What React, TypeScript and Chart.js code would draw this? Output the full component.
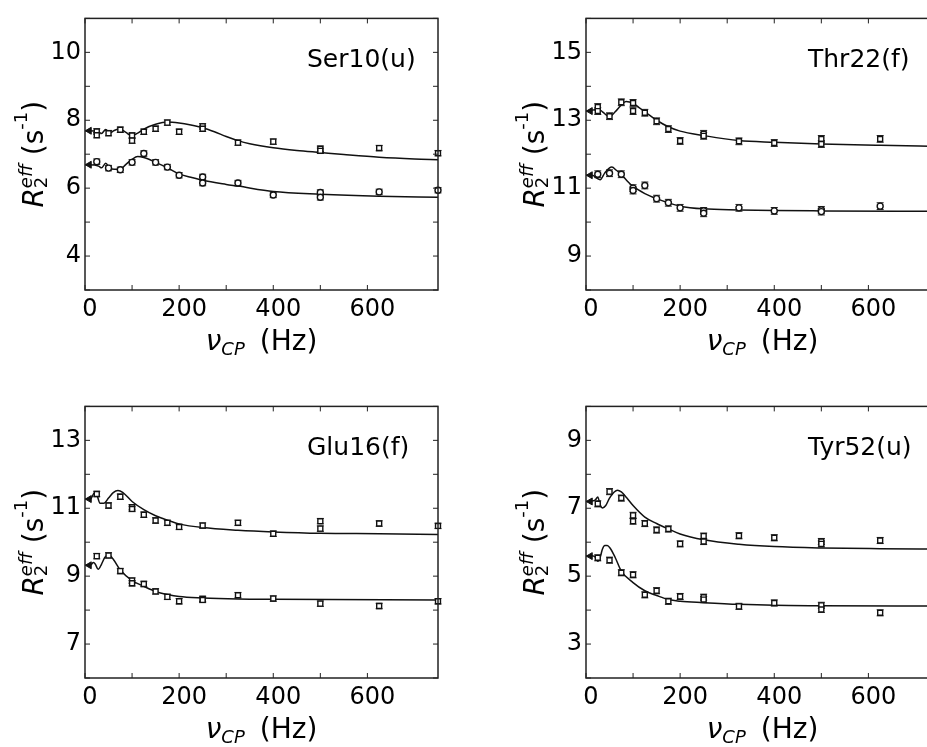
import React, { useEffect, useRef } from "react";
import { Chart, registerables } from "chart.js";
Chart.register(...registerables);

const FONT = "'DejaVu Sans', 'Liberation Sans', sans-serif";

// ---------- shared axis data ----------
const xTickLabels = [0, 200, 400, 600];

// ---------- Ser10(u) ----------
const ser10UpperX = [25, 25, 50, 75, 100, 100, 125, 150, 175, 200, 250, 250, 325, 400, 500, 500, 625, 750];
const ser10UpperY = [7.67, 7.56, 7.62, 7.72, 7.55, 7.4, 7.66, 7.75, 7.93, 7.66, 7.82, 7.75, 7.34, 7.37, 7.16, 7.1, 7.18, 7.03];
const ser10LowerX = [25, 50, 75, 100, 125, 150, 175, 200, 250, 250, 325, 400, 500, 500, 625, 750];
const ser10LowerY = [6.78, 6.59, 6.54, 6.76, 7.02, 6.76, 6.62, 6.38, 6.33, 6.15, 6.15, 5.8, 5.87, 5.73, 5.89, 5.94];
const ser10UpperFitX = [0, 20, 30, 35, 44, 53, 62, 74, 87, 99, 112, 125, 150, 175, 200, 225, 250, 275, 300, 325, 350, 400, 450, 500, 550, 625, 700, 750];
const ser10UpperFitY = [7.69, 7.68, 7.64, 7.61, 7.73, 7.63, 7.7, 7.74, 7.64, 7.54, 7.62, 7.74, 7.88, 7.95, 7.92, 7.86, 7.78, 7.66, 7.52, 7.4, 7.31, 7.19, 7.11, 7.05, 6.99, 6.91, 6.86, 6.84];
const ser10LowerFitX = [0, 20, 30, 35, 44, 53, 62, 75, 87, 100, 112, 125, 150, 175, 200, 225, 250, 300, 325, 400, 500, 625, 750];
const ser10LowerFitY = [6.69, 6.68, 6.64, 6.6, 6.73, 6.58, 6.56, 6.56, 6.7, 6.85, 6.93, 6.9, 6.76, 6.6, 6.42, 6.32, 6.23, 6.11, 6.06, 5.9, 5.82, 5.76, 5.73];
const ser10ArrowY = [7.69, 6.69];
const ser10Err = 0.08;
const ser10YLabels = [4, 6, 8, 10];

// ---------- Thr22(f) ----------
const thr22UpperX = [25, 25, 50, 75, 100, 100, 125, 150, 175, 200, 250, 250, 325, 400, 500, 500, 625];
const thr22UpperY = [13.39, 13.27, 13.12, 13.53, 13.51, 13.27, 13.22, 12.97, 12.74, 12.39, 12.6, 12.54, 12.38, 12.33, 12.45, 12.3, 12.45];
const thr22LowerX = [25, 50, 75, 100, 100, 125, 150, 175, 200, 250, 250, 325, 400, 500, 500, 625];
const thr22LowerY = [11.41, 11.44, 11.41, 11.0, 10.93, 11.08, 10.69, 10.57, 10.42, 10.33, 10.26, 10.42, 10.33, 10.36, 10.31, 10.47];
const thr22UpperFitX = [0, 15, 25, 35, 50, 62, 75, 85, 100, 112, 125, 150, 175, 200, 250, 325, 400, 500, 625, 750];
const thr22UpperFitY = [13.27, 13.3, 13.33, 13.25, 13.1, 13.25, 13.45, 13.55, 13.5, 13.38, 13.25, 13.0, 12.81, 12.68, 12.55, 12.4, 12.35, 12.3, 12.26, 12.23];
const thr22LowerFitX = [0, 15, 22, 30, 40, 50, 55, 65, 75, 87, 100, 125, 150, 175, 200, 250, 325, 400, 500, 750];
const thr22LowerFitY = [11.38, 11.37, 11.3, 11.25, 11.45, 11.6, 11.62, 11.52, 11.41, 11.22, 11.05, 10.84, 10.69, 10.57, 10.47, 10.39, 10.36, 10.34, 10.33, 10.32];
const thr22ArrowY = [13.27, 11.38];
const thr22Err = 0.1;
const thr22YLabels = [9, 11, 13, 15];

// ---------- Glu16(f) ----------
const glu16UpperX = [25, 50, 75, 100, 100, 125, 150, 175, 200, 250, 325, 400, 500, 500, 625, 750];
const glu16UpperY = [11.42, 11.08, 11.34, 11.03, 10.98, 10.81, 10.64, 10.57, 10.45, 10.49, 10.57, 10.25, 10.62, 10.4, 10.55, 10.48];
const glu16LowerX = [25, 50, 75, 100, 100, 125, 150, 175, 200, 250, 250, 325, 400, 500, 625, 750];
const glu16LowerY = [9.59, 9.61, 9.15, 8.87, 8.79, 8.77, 8.55, 8.39, 8.26, 8.33, 8.3, 8.44, 8.34, 8.19, 8.12, 8.26];
const glu16UpperFitX = [0, 12, 20, 25, 32, 40, 50, 60, 70, 80, 100, 125, 150, 175, 200, 250, 325, 400, 500, 625, 750];
const glu16UpperFitY = [11.27, 11.28, 11.45, 11.4, 11.15, 11.15, 11.3, 11.46, 11.52, 11.47, 11.2, 10.96, 10.78, 10.65, 10.54, 10.43, 10.35, 10.3, 10.26, 10.25, 10.23];
const glu16LowerFitX = [0, 12, 18, 22, 28, 35, 42, 50, 60, 75, 100, 125, 150, 175, 200, 250, 325, 400, 750];
const glu16LowerFitY = [9.32, 9.33, 9.4, 9.35, 9.2, 9.35, 9.55, 9.63, 9.5, 9.18, 8.87, 8.7, 8.55, 8.46, 8.4, 8.36, 8.33, 8.32, 8.3];
const glu16ArrowY = [11.27, 9.32];
const glu16Err = 0.08;
const glu16YLabels = [7, 9, 11, 13];

// ---------- Tyr52(u) ----------
const tyr52UpperX = [25, 50, 75, 100, 100, 125, 150, 175, 200, 250, 250, 325, 400, 500, 500, 625];
const tyr52UpperY = [7.13, 7.49, 7.3, 6.79, 6.62, 6.55, 6.36, 6.39, 5.95, 6.18, 6.02, 6.19, 6.13, 6.02, 5.95, 6.05];
const tyr52LowerX = [25, 50, 75, 100, 125, 150, 175, 200, 250, 250, 325, 400, 500, 500, 625];
const tyr52LowerY = [5.54, 5.47, 5.1, 5.04, 4.45, 4.57, 4.26, 4.4, 4.38, 4.31, 4.11, 4.21, 4.14, 4.02, 3.92];
const tyr52UpperFitX = [0, 12, 20, 25, 30, 35, 42, 50, 60, 67, 75, 87, 100, 125, 150, 175, 200, 250, 325, 400, 500, 625, 750];
const tyr52UpperFitY = [7.2, 7.21, 7.25, 7.33, 7.1, 7.01, 7.08, 7.3, 7.48, 7.53, 7.48, 7.3, 7.08, 6.74, 6.55, 6.39, 6.24, 6.07, 5.94, 5.87, 5.83, 5.81, 5.8];
const tyr52LowerFitX = [0, 12, 20, 25, 30, 35, 40, 45, 51, 62, 75, 100, 125, 150, 175, 200, 250, 325, 400, 500, 750];
const tyr52LowerFitY = [5.59, 5.6, 5.56, 5.44, 5.55, 5.8, 5.9, 5.9, 5.83, 5.55, 5.15, 4.81, 4.57, 4.43, 4.31, 4.26, 4.22, 4.17, 4.14, 4.13, 4.12];
const tyr52ArrowY = [7.2, 5.59];
const tyr52Err = 0.09;
const tyr52YLabels = [3, 5, 7, 9];

const arrowX = 9;

type Panel = {
  label: string;
  yMin: number;
  yMax: number;
  yLabels: number[];
  upperX: number[];
  upperY: number[];
  lowerX: number[];
  lowerY: number[];
  upperFitX: number[];
  upperFitY: number[];
  lowerFitX: number[];
  lowerFitY: number[];
  arrowY: number[];
  err: number;
  upperStyle: string;
  lowerStyle: string;
  left: number;
  top: number;
};

const panels: Panel[] = [
  {
    label: "Ser10(u)", yMin: 3, yMax: 11, yLabels: ser10YLabels,
    upperX: ser10UpperX, upperY: ser10UpperY, lowerX: ser10LowerX, lowerY: ser10LowerY,
    upperFitX: ser10UpperFitX, upperFitY: ser10UpperFitY, lowerFitX: ser10LowerFitX, lowerFitY: ser10LowerFitY,
    arrowY: ser10ArrowY, err: ser10Err, upperStyle: "rect", lowerStyle: "circle", left: 0, top: 0,
  },
  {
    label: "Thr22(f)", yMin: 8, yMax: 16, yLabels: thr22YLabels,
    upperX: thr22UpperX, upperY: thr22UpperY, lowerX: thr22LowerX, lowerY: thr22LowerY,
    upperFitX: thr22UpperFitX, upperFitY: thr22UpperFitY, lowerFitX: thr22LowerFitX, lowerFitY: thr22LowerFitY,
    arrowY: thr22ArrowY, err: thr22Err, upperStyle: "rect", lowerStyle: "circle", left: 501, top: 0,
  },
  {
    label: "Glu16(f)", yMin: 6, yMax: 14, yLabels: glu16YLabels,
    upperX: glu16UpperX, upperY: glu16UpperY, lowerX: glu16LowerX, lowerY: glu16LowerY,
    upperFitX: glu16UpperFitX, upperFitY: glu16UpperFitY, lowerFitX: glu16LowerFitX, lowerFitY: glu16LowerFitY,
    arrowY: glu16ArrowY, err: glu16Err, upperStyle: "rect", lowerStyle: "rect", left: 0, top: 388,
  },
  {
    label: "Tyr52(u)", yMin: 2, yMax: 10, yLabels: tyr52YLabels,
    upperX: tyr52UpperX, upperY: tyr52UpperY, lowerX: tyr52LowerX, lowerY: tyr52LowerY,
    upperFitX: tyr52UpperFitX, upperFitY: tyr52UpperFitY, lowerFitX: tyr52LowerFitX, lowerFitY: tyr52LowerFitY,
    arrowY: tyr52ArrowY, err: tyr52Err, upperStyle: "rect", lowerStyle: "rect", left: 501, top: 388,
  },
];

const CW = 464;
const CH = 374;

function pts(xs: number[], ys: number[]) {
  return xs.map((x, i) => ({ x, y: ys[i] }));
}

function makeDecorPlugin(label: string) {
  return {
    id: "decor",
    beforeDatasetsDraw(chart: any) {
      const ctx = chart.ctx;
      const ys = chart.scales.y;
      ctx.save();
      ctx.strokeStyle = "#222";
      ctx.lineWidth = 1;
      chart.data.datasets.forEach((ds: any, i: number) => {
        if (!ds.errorBar) return;
        const meta = chart.getDatasetMeta(i);
        meta.data.forEach((el: any, j: number) => {
          const v = ds.data[j].y;
          const yt = ys.getPixelForValue(v + ds.errorBar);
          const yb = ys.getPixelForValue(v - ds.errorBar);
          const x = el.x;
          ctx.beginPath();
          ctx.moveTo(x, yt);
          ctx.lineTo(x, yb);
          ctx.moveTo(x - 3.5, yt);
          ctx.lineTo(x + 3.5, yt);
          ctx.moveTo(x - 3.5, yb);
          ctx.lineTo(x + 3.5, yb);
          ctx.stroke();
        });
      });
      ctx.restore();
    },
    afterDraw(chart: any) {
      const ctx = chart.ctx;
      const a = chart.chartArea;
      const xs = chart.scales.x;
      const ys = chart.scales.y;
      ctx.save();
      // frame
      ctx.strokeStyle = "#222";
      ctx.lineWidth = 1.5;
      ctx.strokeRect(a.left, a.top, a.right - a.left, a.bottom - a.top);
      // inward tick marks
      ctx.lineWidth = 1;
      ctx.beginPath();
      xs.ticks.forEach((t: any) => {
        if (t.value % 100 !== 0) return;
        const px = xs.getPixelForValue(t.value);
        ctx.moveTo(px, a.bottom);
        ctx.lineTo(px, a.bottom - 5);
        ctx.moveTo(px, a.top);
        ctx.lineTo(px, a.top + 5);
      });
      ys.ticks.forEach((t: any) => {
        if (!Number.isInteger(t.value)) return;
        const py = ys.getPixelForValue(t.value);
        ctx.moveTo(a.left, py);
        ctx.lineTo(a.left + 5, py);
        ctx.moveTo(a.right, py);
        ctx.lineTo(a.right - 5, py);
      });
      ctx.stroke();

      ctx.fillStyle = "#000";
      ctx.textBaseline = "alphabetic";
      ctx.textAlign = "left";

      // residue label
      ctx.font = `25px ${FONT}`;
      ctx.fillText(label, a.left + 222, a.top + 49);

      // x title: nu_CP (Hz)
      const fNu = `italic 28px ${FONT}`;
      const fSub = `italic 18px ${FONT}`;
      const fMain = `28px ${FONT}`;
      ctx.font = fNu;
      const wNu = ctx.measureText("ν").width;
      ctx.font = fSub;
      const wCP = ctx.measureText("CP").width;
      ctx.font = fMain;
      const wHz = ctx.measureText("(Hz)").width;
      const gap = 15;
      const total = wNu + wCP + gap + wHz;
      let x = (a.left + a.right) / 2 - total / 2;
      const base = a.bottom + 60;
      ctx.font = fNu;
      ctx.fillText("ν", x, base);
      x += wNu;
      ctx.font = fSub;
      ctx.fillText("CP", x, base + 5);
      x += wCP + gap;
      ctx.font = fMain;
      ctx.fillText("(Hz)", x, base);

      // y title: R_2^eff (s^-1)
      const fR = `italic 28px ${FONT}`;
      const fS = `18px ${FONT}`;
      const fSI = `italic 18px ${FONT}`;
      const fM = `28px ${FONT}`;
      ctx.font = fR;
      const wR = ctx.measureText("R").width;
      ctx.font = fSI;
      const wEff = ctx.measureText("eff").width;
      ctx.font = fS;
      const w2 = ctx.measureText("2").width;
      const wM1 = ctx.measureText("-1").width;
      ctx.font = fM;
      const wSp = ctx.measureText(" ").width;
      const wPs = ctx.measureText("(s").width;
      const wPc = ctx.measureText(")").width;
      const tot = wR + Math.max(wEff, w2) + wSp + wPs + wM1 + wPc;
      ctx.translate(a.left - 42, (a.top + a.bottom) / 2);
      ctx.rotate(-Math.PI / 2);
      let t = -tot / 2;
      ctx.font = fR;
      ctx.fillText("R", t, 0);
      t += wR;
      ctx.font = fSI;
      ctx.fillText("eff", t, -11);
      ctx.font = fS;
      ctx.fillText("2", t, 4);
      t += Math.max(wEff, w2) + wSp;
      ctx.font = fM;
      ctx.fillText("(s", t, 0);
      t += wPs;
      ctx.font = fS;
      ctx.fillText("-1", t, -16);
      t += wM1;
      ctx.font = fM;
      ctx.fillText(")", t, 0);
      ctx.restore();
    },
  };
}

function PanelChart({ p }: { p: Panel }) {
  const ref = useRef<HTMLCanvasElement | null>(null);
  useEffect(() => {
    if (!ref.current) return;
    const markerCommon = {
      showLine: false,
      pointRadius: 3,
      pointBorderWidth: 1.4,
      pointBorderColor: "#111",
      pointBackgroundColor: "#fff",
      clip: false as any,
    };
    const chart = new Chart(ref.current, {
      type: "scatter",
      data: {
        datasets: [
          {
            ...markerCommon,
            data: pts(p.upperX, p.upperY),
            pointStyle: p.upperStyle as any,
            pointRadius: p.upperStyle === "rect" ? 3.5 : 3,
            errorBar: p.err,
          } as any,
          {
            ...markerCommon,
            data: pts(p.lowerX, p.lowerY),
            pointStyle: p.lowerStyle as any,
            pointRadius: p.lowerStyle === "rect" ? 3.5 : 3,
            errorBar: p.err,
          } as any,
          {
            data: pts([arrowX, arrowX], p.arrowY),
            showLine: false,
            pointStyle: "triangle",
            rotation: 270,
            pointRadius: 4,
            pointBackgroundColor: "#111",
            pointBorderColor: "#111",
            pointBorderWidth: 1,
          } as any,
          {
            data: pts(p.upperFitX, p.upperFitY),
            showLine: true,
            pointRadius: 0,
            borderColor: "#111",
            borderWidth: 1.5,
            cubicInterpolationMode: "monotone",
          } as any,
          {
            data: pts(p.lowerFitX, p.lowerFitY),
            showLine: true,
            pointRadius: 0,
            borderColor: "#111",
            borderWidth: 1.5,
            cubicInterpolationMode: "monotone",
          } as any,
        ],
      },
      options: {
        animation: false,
        responsive: false,
        maintainAspectRatio: false,
        layout: { padding: { left: 0, top: 13, right: CW - 438, bottom: 0 } },
        plugins: { legend: { display: false }, tooltip: { enabled: false } },
        scales: {
          x: {
            type: "linear",
            min: 0,
            max: 750,
            grid: { display: false, drawTicks: false },
            border: { display: false },
            ticks: {
              stepSize: 100,
              autoSkip: false,
              maxRotation: 0,
              minRotation: 0,
              padding: 5,
              labelOffset: 5,
              color: "#000",
              font: { family: FONT, size: 24 },
              callback: (v: any) => (xTickLabels.includes(Number(v)) ? String(v) : ""),
            },
            afterFit: (s: any) => {
              s.height = CH - 290;
            },
          },
          y: {
            type: "linear",
            min: p.yMin,
            max: p.yMax,
            grid: { display: false, drawTicks: false },
            border: { display: false },
            ticks: {
              stepSize: 1,
              autoSkip: false,
              padding: 4,
              color: "#000",
              font: { family: FONT, size: 24 },
              callback: (v: any) => (p.yLabels.includes(Number(v)) ? String(v) : ""),
            },
            afterFit: (s: any) => {
              s.width = 85;
            },
          },
        },
      } as any,
      plugins: [makeDecorPlugin(p.label) as any],
    });
    return () => chart.destroy();
  }, [p]);
  return (
    <canvas
      ref={ref}
      width={CW}
      height={CH}
      style={{ position: "absolute", left: p.left, top: p.top, width: CW, height: CH }}
    />
  );
}

export default function App() {
  return (
    <div
      style={{
        position: "absolute",
        left: 0,
        top: 0,
        width: 927,
        height: 747,
        overflow: "hidden",
        background: "#fff",
      }}
    >
      {panels.map((p) => (
        <PanelChart key={p.label} p={p} />
      ))}
    </div>
  );
}
